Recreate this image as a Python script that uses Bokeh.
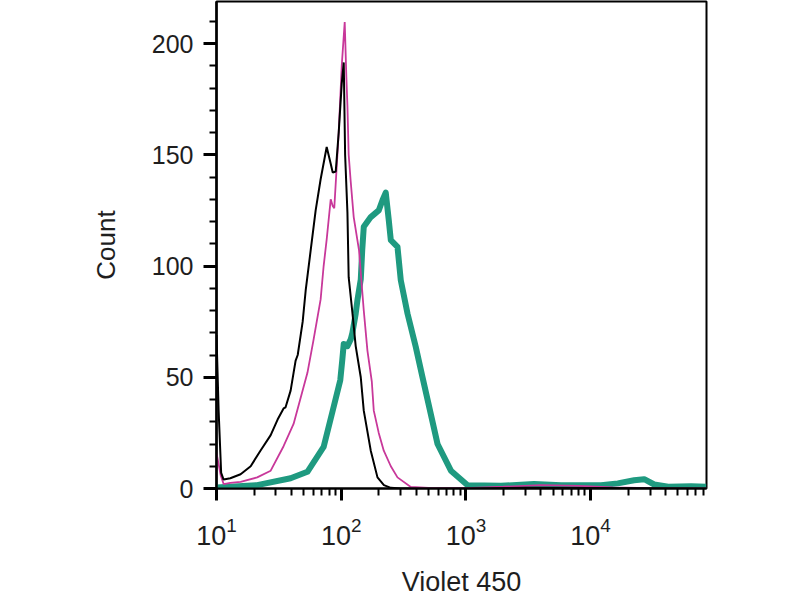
from bokeh.plotting import figure
from bokeh.models import Range1d, FixedTicker, SingleIntervalTicker, LogTickFormatter
from bokeh.embed import file_html
from bokeh.resources import INLINE

# ---- data (Violet 450 intensity vs. count) ----
black_x = [10, 10.4, 10.9, 11.4, 12.9, 15.6, 18.8, 22.5, 27.2, 30.9, 34.5, 35.8, 39.3, 41.5,
           43.1, 44.8, 49.1, 51.9, 56.9, 62.4, 68.4, 76.5, 82.4, 85.5, 90.4, 95.5, 101,
           104.8, 107.5, 112.2, 114.8, 123, 130.7, 143.5, 151.7, 172.6, 195.4, 220, 250,
           300, 1000, 3000, 10000, 85000]
black_y = [69, 35, 7, 4, 4.6, 6.4, 10, 17, 24, 31, 36, 36.5, 44, 52,
           57.5, 60, 75, 89, 107, 125, 139, 153.5, 146, 142, 142.5, 160, 182,
           191.5, 150, 124, 95, 79, 64, 50, 35, 17, 5, 1.5, 0.3,
           0, 0, 0.3, 0.2, 0]

pink_x = [10, 10.8, 11.4, 12.9, 15.6, 21.2, 27.2, 34.5, 41.5, 53.6, 60.1, 68.4, 72.3, 76.5,
          82.4, 85.5, 88, 95.5, 101, 106.7, 110, 112.2, 114.8, 119.2, 126, 139, 151.7,
          162.3, 176, 182.5, 200, 219.5, 250, 282.7, 361.6, 500, 1000, 2000, 4000, 8000,
          15000, 30000, 85000]
pink_y = [16, 6, 2, 2.5, 3, 5, 8, 19, 29, 52, 67, 85, 100, 112,
          130, 127, 126, 160, 190, 209.7, 185, 172, 150, 138, 122, 107, 80,
          62, 48, 35, 25, 17, 10, 5, 0.7, 0.3, 0.2, 0.8, 1.5, 1.2,
          0.5, 0.2, 0]

teal_x = [10, 21.2, 39.3, 53.6, 56.9, 72.3, 85.5, 98.3, 102, 104.8, 112.2, 119.2, 123,
          130.7, 134.9, 143.5, 147.4, 151.7, 172.6, 200, 214.3, 227.6, 240.7, 250, 282.7,
          300.5, 340.3, 396.4, 448.7, 492.3, 592.3, 758.6, 1032, 1910, 3516, 5794, 12140,
          16520, 22330, 26900, 32370, 41920, 64120, 84700]
teal_y = [0.5, 1.5, 4.6, 7.5, 9.7, 18.7, 35, 48.7, 57.7, 65, 64, 67, 70,
          78.6, 84.6, 94, 107, 117.6, 122, 125, 129.6, 133, 120.6, 111.6, 108.6,
          93.6, 78.6, 63.6, 50, 40, 20, 8, 1.5, 1.2, 2, 1.5, 1.5,
          2.3, 3.7, 4.2, 1.8, 0.8, 1, 0.8]

x_major = [10, 100, 1000, 10000]
x_minor = [m * d for d in x_major for m in range(2, 10)]

FONT = "Liberation Sans"
TXT = "#1e1e1e"

p = figure(
    x_axis_type="log",
    x_range=Range1d(10, 85000),
    y_range=Range1d(0, 218.9),
    frame_width=490, frame_height=487,
    min_border_left=216, min_border_right=94, min_border_top=1, min_border_bottom=112,
    output_backend="svg", toolbar_location=None,
)
p.background_fill_color = "white"
p.border_fill_color = "white"
p.outline_line_color = "black"
p.outline_line_width = 2
p.outline_line_alpha = 1
p.xgrid.visible = False
p.ygrid.visible = False

p.line(teal_x, teal_y, line_color="#1f9a80", line_width=6, line_join="round")
p.line(pink_x, pink_y, line_color="#c8389a", line_width=1.8)
p.line(black_x, black_y, line_color="black", line_width=2)

# y axis
ya = p.yaxis[0]
ya.ticker = SingleIntervalTicker(interval=50, num_minor_ticks=5)
ya.axis_line_width = 2.5
ya.axis_line_color = "black"
ya.major_tick_in = 0
ya.major_tick_out = 13
ya.major_tick_line_width = 3
ya.minor_tick_in = 0
ya.minor_tick_out = 7
ya.minor_tick_line_width = 2
ya.major_label_text_font = FONT
ya.major_label_text_font_size = "25px"
ya.major_label_text_color = TXT
ya.major_label_standoff = 10
ya.axis_label = "Count"
ya.axis_label_text_font = FONT
ya.axis_label_text_font_size = "26px"
ya.axis_label_text_font_style = "normal"
ya.axis_label_text_color = TXT
ya.axis_label_standoff = 28

# x axis
xa = p.xaxis[0]
xa.ticker = FixedTicker(ticks=x_major, minor_ticks=x_minor)
xa.formatter = LogTickFormatter()
xa.axis_line_width = 2
xa.axis_line_color = "black"
xa.major_tick_in = 0
xa.major_tick_out = 12
xa.major_tick_line_width = 3
xa.minor_tick_in = 0
xa.minor_tick_out = 7
xa.minor_tick_line_width = 2
xa.major_label_text_font = FONT
xa.major_label_text_font_size = "27px"
xa.major_label_text_color = TXT
xa.major_label_standoff = 16
xa.axis_label = "Violet 450"
xa.axis_label_text_font = FONT
xa.axis_label_text_font_size = "27px"
xa.axis_label_text_font_style = "normal"
xa.axis_label_text_color = TXT
xa.axis_label_standoff = 19

open("out.html", "w").write(file_html(p, INLINE))
